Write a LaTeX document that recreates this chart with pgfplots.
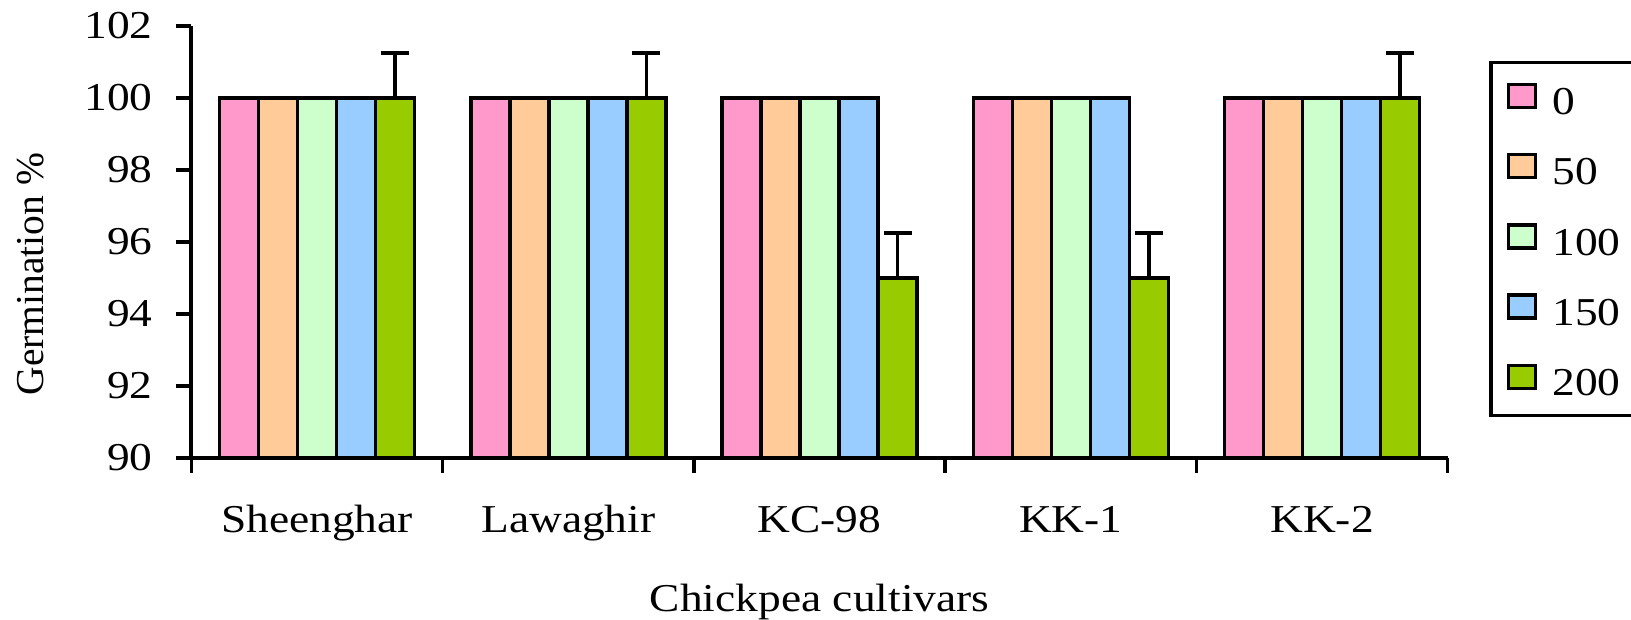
\documentclass[border=0pt]{standalone}
\usepackage{fontspec}
\setmainfont{Liberation Serif}[FakeStretch=1.15]
\setsansfont{Liberation Serif}[FakeStretch=1.15]
\setmonofont{Liberation Serif}[FakeStretch=1.15]
\newfontfamily\tnr{Liberation Serif}[FakeStretch=1.15]
\newfontfamily\tnrv{Liberation Serif}
\usepackage{pgfplots}
\pgfplotsset{compat=1.18}
\definecolor{cA}{HTML}{FF99CC}
\definecolor{cB}{HTML}{FFCC99}
\definecolor{cC}{HTML}{CCFFCC}
\definecolor{cD}{HTML}{99CCFF}
\definecolor{cE}{HTML}{99CC00}
\newcommand{\cf}{\tnr\fontsize{19.75pt}{24pt}\selectfont}
\newcommand{\cfv}{\tnrv\fontsize{19.75pt}{24pt}\selectfont}
\begin{document}
\begin{tikzpicture}
\begin{axis}[
  scale only axis, width=628.1pt, height=216.1pt,
  ybar=0pt, bar width=19.5pt,
  xmin=-0.5, xmax=4.5, ymin=90, ymax=102,
  xtick={0,1,2,3,4},
  xticklabels={Sheenghar,Lawaghir,KC-98,KK-1,KK-2},
  minor xtick={-0.5,0.5,1.5,2.5,3.5,4.5},
  ytick={90,92,94,96,98,100,102},
  yticklabels={90,92,94,96,98,100,102},
  axis x line*=bottom, axis y line*=left,
  axis line style={line width=2pt, -},
  tick align=outside,
  major tick length=7.5pt, minor tick length=7.5pt,
  every tick/.style={black, line width=1.75pt},
  major x tick style={draw=none},
  /pgf/number format/assume math mode=true,
  font=\cf,
  ticklabel style={font=\cf},
  xticklabel style={anchor=base, inner sep=0pt, yshift=-29.5pt},
  yticklabel style={anchor=east, inner sep=0pt, xshift=-11.7pt},
  xlabel={Chickpea cultivars},
  xlabel style={at={(axis description cs:0.5,-0.3563)}, anchor=base, inner sep=0pt, font=\cf},
  ylabel={Germination \%},
  ylabel style={at={(axis description cs:-0.1182,0.4257)}, anchor=base, inner sep=0pt, font=\cfv},
  every axis plot/.append style={draw=black, line width=1.75pt},
  legend style={at={(rel axis cs:1.0329,0.9186)}, anchor=north west,
    draw=black, line width=1.75pt, inner xsep=8pt, inner ysep=10pt,
    row sep=19.2pt,
    nodes={inner sep=0pt, text height=14pt, text depth=0pt},
    font=\cf,
    /tikz/every odd column/.append style={column sep=7.5pt}},
  legend cell align=left,
  legend image code/.code={\draw[#1, line width=1.75pt] (0pt,-3.45pt) rectangle (13.5pt,8.05pt);},
]
\addplot[fill=cA] coordinates {(0,100) (1,100) (2,100) (3,100) (4,100)};
\addplot[fill=cB] coordinates {(0,100) (1,100) (2,100) (3,100) (4,100)};
\addplot[fill=cC] coordinates {(0,100) (1,100) (2,100) (3,100) (4,100)};
\addplot[fill=cD] coordinates {(0,100) (1,100) (2,100) (3,100) (4,100)};
\addplot[fill=cE, error bars/.cd, y dir=plus, y explicit,
   error bar style={line width=1.75pt, black},
   error mark options={rotate=90, mark size=7pt, line width=1.75pt, black}]
  coordinates {(0,100) +- (0,1.25) (1,100) +- (0,1.25) (2,95) +- (0,1.25) (3,95) +- (0,1.25) (4,100) +- (0,1.25)};
\legend{0,50,100,150,200}
\end{axis}
\pgfresetboundingbox
\path[use as bounding box] (-95.75pt,-81pt) rectangle (719.75pt,229pt);
\end{tikzpicture}
\end{document}
